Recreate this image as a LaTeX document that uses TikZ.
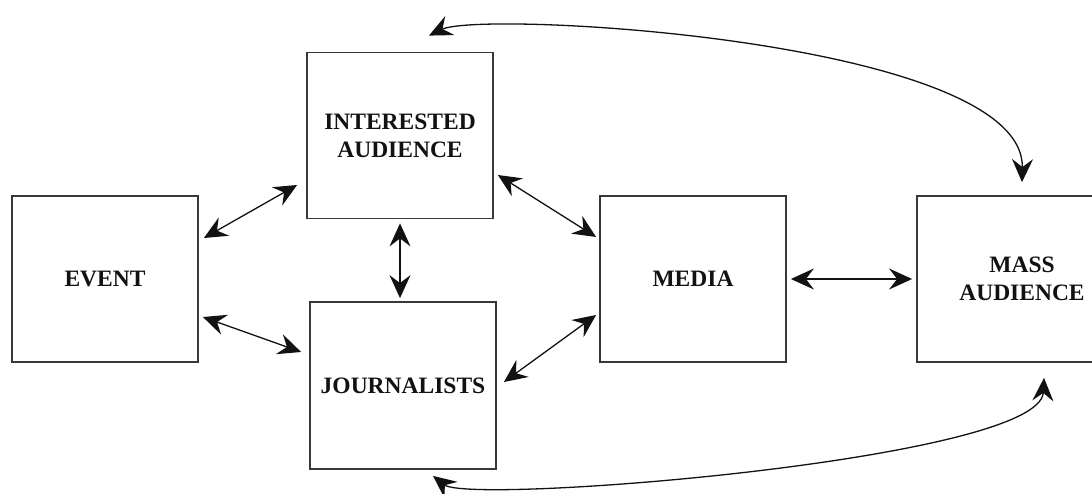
\documentclass[tikz,border=0pt]{standalone}
\usepackage{fontspec}
\setmainfont{Liberation Serif}
\usetikzlibrary{arrows.meta,calc}
\definecolor{boxline}{HTML}{383838}
\definecolor{ink}{HTML}{121212}
\begin{document}
\begin{tikzpicture}[x=1pt,y=-1pt,
  box/.style={draw=boxline,line width=1.8pt,minimum width=186pt,minimum height=166pt,
    inner sep=0pt,align=center,font=\fontsize{23.5}{28}\selectfont\bfseries,text=ink},
  tip/.style={Stealth[length=23pt,width=21pt,inset=8pt]},
  link/.style={line width=1.3pt,draw=ink,{Stealth[length=23pt,width=21pt,inset=8pt]}-{Stealth[length=23pt,width=21pt,inset=8pt]}}]
\useasboundingbox[fill=white] (0,0) rectangle (1092,494);
\node[box] (ev) at (105,279) {EVENT};
\node[box] (ia) at (400,135.5) {INTERESTED\\AUDIENCE};
\node[box,minimum height=167pt] (jo) at (403,385.5) {JOURNALISTS};
\node[box] (me) at (693,279) {MEDIA};
\node[box,minimum width=210pt] (ma) at (1022,279) {MASS\\AUDIENCE};
\draw[link] ($(ev.east)+(5,-41)$) -- ($(ia.west)+(-9,49.5)$);
\draw[link] ($(ev.east)+(4,38)$) -- ($(jo.west)+(-8,-33.5)$);
\draw[link] ($(ia.south)+(0,4)$) -- ($(ia.south |- jo.north)+(0,-3)$);
\draw[link] ($(ia.east)+(4,39.5)$) -- ($(me.west)+(-3,-42)$);
\draw[link] ($(jo.east)+(7,-3.5)$) -- ($(me.west)+(-3,36)$);
\draw[link] ($(me.east)+(4,0)$) -- ($(ma.west)+(-4,0)$);
\draw[link] ($(ia.north)+(29,-16)$) .. controls (482,10) and (1025,40) .. ($(ma.north)+(0,-13)$);
\draw[link] ($(jo.south)+(30,6)$) .. controls (470,505) and (1040,460) .. ($(ma.south)+(22,15)$);
\end{tikzpicture}
\end{document}
